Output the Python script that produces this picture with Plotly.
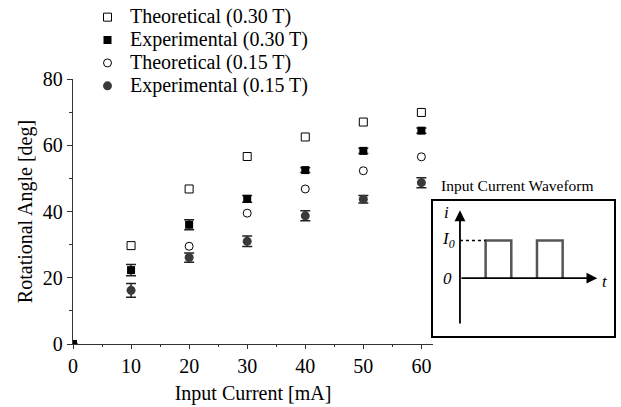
import plotly.graph_objects as go

# ---- data ----
current = [0, 10, 20, 30, 40, 50, 60]
theo_030 = [None, 29.7, 46.8, 56.6, 62.5, 67.0, 69.9]
exp_030 = [0, 22.3, 36.0, 43.8, 52.5, 58.3, 64.4]
exp_030_err = [0, 1.7, 1.5, 1.0, 0.7, 0.8, 0.8]
theo_015 = [None, None, 29.5, 39.5, 46.8, 52.3, 56.5]
exp_015 = [None, 16.2, 26.1, 31.0, 38.7, 43.7, 48.7]
exp_015_err = [None, 2.1, 1.4, 1.6, 1.5, 1.1, 1.5]

x_ticks = [0, 10, 20, 30, 40, 50, 60]
y_ticks = [0, 20, 40, 60, 80]

# inset waveform (schematic): time vs current in units of I0
pulse_t = [1, 1, 2, 2, None, 3, 3, 4, 4]
pulse_i = [0, 1, 1, 0, None, 0, 1, 1, 0]

FONT = "Liberation Serif"
W, H = 621, 407
L, R, T, B = 73, 7, 79, 63
pw = W - L - R
ph = H - T - B
main_right = 433
box_left, box_right = 433, 614
box_top, box_bot = 200.7, 336


def leg(name):
    return ("<span style=\"font-family:'Liberation Serif', serif; font-size:20px\">"
            + name + "</span>")


fig = go.Figure()

fig.add_trace(go.Scatter(
    x=current, y=theo_030, mode="markers", name=leg("Theoretical (0.30 T)"),
    marker=dict(symbol="square-open", size=8, color="black", line=dict(width=1))))
fig.add_trace(go.Scatter(
    x=current, y=exp_030, mode="markers", name=leg("Experimental (0.30 T)"),
    marker=dict(symbol="square", size=8, color="black"),
    error_y=dict(type="data", array=exp_030_err, color="#222", thickness=1.5, width=5)))
fig.add_trace(go.Scatter(
    x=current, y=theo_015, mode="markers", name=leg("Theoretical (0.15 T)"),
    marker=dict(symbol="circle-open", size=8, color="black", line=dict(width=1))))
fig.add_trace(go.Scatter(
    x=current, y=exp_015, mode="markers", name=leg("Experimental (0.15 T)"),
    marker=dict(symbol="circle", size=9, color="#3a3a3a"),
    error_y=dict(type="data", array=exp_015_err, color="#222", thickness=1.5, width=5)))

# inset waveform
fig.add_trace(go.Scatter(
    x=pulse_t, y=pulse_i, mode="lines", xaxis="x2", yaxis="y2", showlegend=False,
    line=dict(color="#555", width=2.5), hoverinfo="skip"))
fig.add_trace(go.Scatter(
    x=[0, 1], y=[1, 1], mode="lines", xaxis="x2", yaxis="y2", showlegend=False,
    line=dict(color="black", width=1.5, dash="dot"), hoverinfo="skip"))

axis_font = dict(family=FONT, size=20, color="black")
fig.update_layout(
    width=W, height=H,
    margin=dict(l=L, r=R, t=T, b=B, autoexpand=False),
    paper_bgcolor="white", plot_bgcolor="white",
    font=dict(family=FONT, size=20, color="black"),
    xaxis=dict(
        domain=[0, (main_right - L) / pw], range=[0, 62],
        tickmode="array", tickvals=x_ticks,
        ticks="outside", ticklen=4, tickwidth=1.2, tickcolor="#333",
        minor=dict(tickmode="array", tickvals=[5, 15, 25, 35, 45, 55], ticks="outside", ticklen=2, tickcolor="#333"),
        showline=True, linecolor="#333", linewidth=1.3, showgrid=False, zeroline=False,
        tickfont=axis_font,
        title=dict(text="Input Current [mA]", font=axis_font, standoff=9),
    ),
    yaxis=dict(
        domain=[0, 1], range=[0, 80],
        tickmode="array", tickvals=y_ticks,
        ticks="outside", ticklen=5, tickwidth=1.2, tickcolor="#333",
        minor=dict(tickmode="array", tickvals=[10, 30, 50, 70], ticks="outside", ticklen=3, tickcolor="#333"),
        showline=True, linecolor="#333", linewidth=1.3, showgrid=False, zeroline=False,
        tickfont=axis_font,
        title=dict(text="Rotational Angle [deg]", font=axis_font, standoff=4),
    ),
    xaxis2=dict(
        domain=[(box_left - L) / pw, (box_right - L) / pw], range=[-1.05, 6.0],
        anchor="y2", showline=True, mirror=True, linecolor="black", linewidth=2,
        showticklabels=False, ticks="", showgrid=False, zeroline=False,
    ),
    yaxis2=dict(
        domain=[(T + ph - box_bot) / ph, (T + ph - box_top) / ph], range=[-1.535, 2.056],
        anchor="x2", showline=True, mirror=True, linecolor="black", linewidth=2,
        showticklabels=False, ticks="", showgrid=False, zeroline=False,
    ),
    legend=dict(
        x=(85 - L) / pw, xanchor="left", y=(T + ph - 0.7) / ph, yanchor="top",
        bgcolor="rgba(0,0,0,0)", font=dict(family=FONT, size=15.3, color="black"),
        tracegroupgap=0, itemwidth=35,
    ),
    showlegend=True,
)

ann = []
# inset axes arrows
ann.append(dict(x=5.35, y=0, ax=0, ay=0, xref="x2", yref="y2", axref="x2", ayref="y2",
                showarrow=True, arrowhead=2, arrowsize=1.2, arrowwidth=1.8, arrowcolor="black", text=""))
ann.append(dict(x=0, y=1.8, ax=0, ay=-1.24, xref="x2", yref="y2", axref="x2", ayref="y2",
                showarrow=True, arrowhead=2, arrowsize=1.2, arrowwidth=1.8, arrowcolor="black", text=""))
ann.append(dict(x=-0.54, y=1.74, xref="x2", yref="y2", text="<i>i</i>", showarrow=False,
                xanchor="center", yanchor="middle",
                font=dict(family=FONT, size=17, color="black")))
ann.append(dict(x=-0.45, y=1.0, xref="x2", yref="y2", text="<i>I<sub>0</sub></i>", showarrow=False,
                xanchor="center", yanchor="middle",
                font=dict(family=FONT, size=17, color="black")))
ann.append(dict(x=-0.47, y=0.0, xref="x2", yref="y2", text="<i>0</i>", showarrow=False,
                xanchor="center", yanchor="middle",
                font=dict(family=FONT, size=17, color="black")))
ann.append(dict(x=5.65, y=-0.08, xref="x2", yref="y2", text="<i>t</i>", showarrow=False,
                xanchor="center", yanchor="middle",
                font=dict(family=FONT, size=17, color="black")))
ann.append(dict(x=(517 - L) / pw, y=(T + ph - 185) / ph, xref="paper", yref="paper",
                xanchor="center", yanchor="middle",
                text="Input Current Waveform", showarrow=False,
                font=dict(family=FONT, size=15.5, color="black")))
fig.update_layout(annotations=ann)

fig.write_html("out.html")
